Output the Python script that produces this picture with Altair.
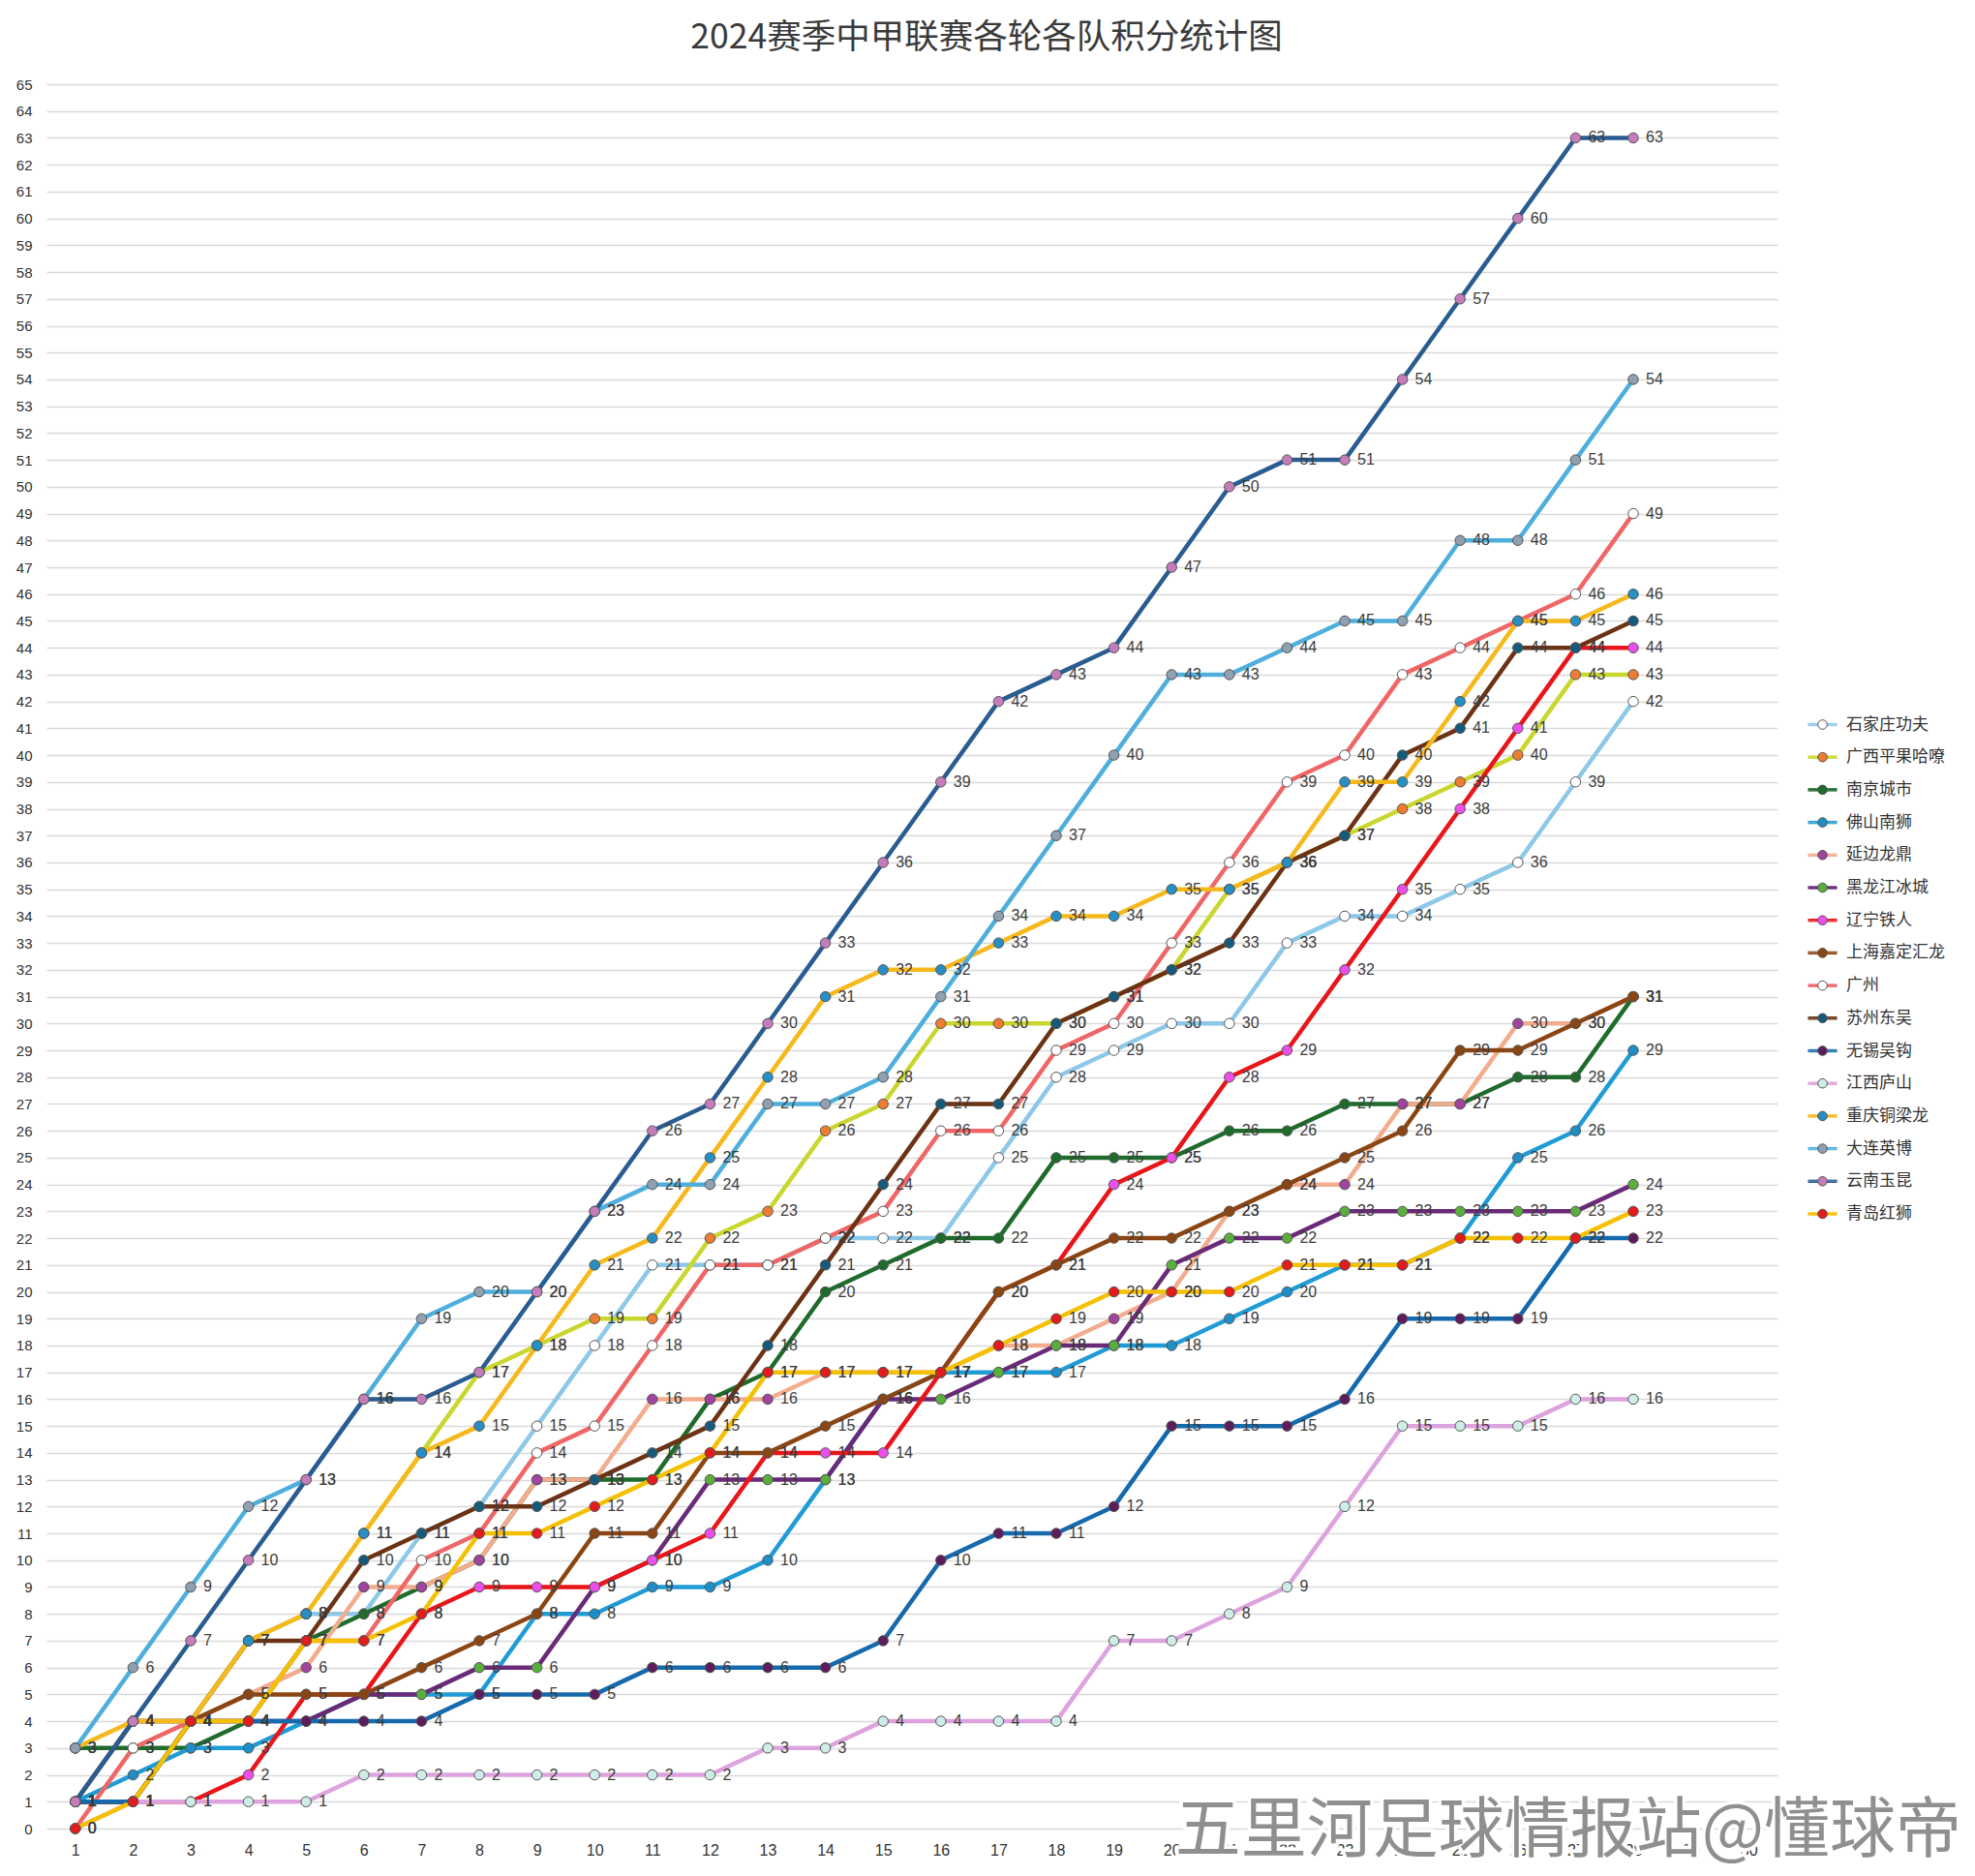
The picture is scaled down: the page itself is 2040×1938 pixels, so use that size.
import altair as alt
import pandas as pd

teams = ["石家庄功夫", "广西平果哈嘹", "南京城市", "佛山南狮", "延边龙鼎", "黑龙江冰城",
         "辽宁铁人", "上海嘉定汇龙", "广州", "苏州东吴", "无锡吴钩", "江西庐山",
         "重庆铜梁龙", "大连英博", "云南玉昆", "青岛红狮"]
rounds = list(range(1, 29))
x_ticks = list(range(1, 31))
y_ticks = list(range(0, 66))

shijiazhuang = [1, 4, 4, 7, 8, 8, 11, 12, 15, 18, 21, 21, 21, 22, 22, 22, 25, 28, 29, 30, 30, 33, 34, 34, 35, 36, 39, 42]
guangxi = [1, 4, 4, 7, 8, 11, 14, 17, 18, 19, 19, 22, 23, 26, 27, 30, 30, 30, 31, 32, 35, 36, 37, 38, 39, 40, 43, 43]
nanjing = [3, 3, 3, 4, 7, 8, 9, 10, 13, 13, 13, 16, 17, 20, 21, 22, 22, 25, 25, 25, 26, 26, 27, 27, 27, 28, 28, 31]
foshan = [1, 2, 3, 3, 4, 5, 5, 5, 8, 8, 9, 9, 10, 13, 16, 17, 17, 17, 18, 18, 19, 20, 21, 21, 22, 25, 26, 29]
yanbian = [1, 1, 4, 5, 6, 9, 9, 10, 13, 13, 16, 16, 16, 17, 17, 17, 18, 18, 19, 20, 23, 24, 24, 27, 27, 30, 30, 31]
heilongjiang = [1, 4, 4, 4, 4, 5, 5, 6, 6, 9, 10, 13, 13, 13, 16, 16, 17, 18, 18, 21, 22, 22, 23, 23, 23, 23, 23, 24]
liaoning = [1, 1, 1, 2, 5, 5, 8, 9, 9, 9, 10, 11, 14, 14, 14, 17, 20, 21, 24, 25, 28, 29, 32, 35, 38, 41, 44, 44]
shanghai = [1, 1, 4, 5, 5, 5, 6, 7, 8, 11, 11, 14, 14, 15, 16, 17, 20, 21, 22, 22, 23, 24, 25, 26, 29, 29, 30, 31]
guangzhou = [0, 3, 4, 4, 7, 7, 10, 11, 14, 15, 18, 21, 21, 22, 23, 26, 26, 29, 30, 33, 36, 39, 40, 43, 44, 45, 46, 49]
suzhou = [1, 1, 4, 7, 7, 10, 11, 12, 12, 13, 14, 15, 18, 21, 24, 27, 27, 30, 31, 32, 33, 36, 37, 40, 41, 44, 44, 45]
wuxi = [1, 1, 4, 4, 4, 4, 4, 5, 5, 5, 6, 6, 6, 6, 7, 10, 11, 11, 12, 15, 15, 15, 16, 19, 19, 19, 22, 22]
jiangxi = [0, 1, 1, 1, 1, 2, 2, 2, 2, 2, 2, 2, 3, 3, 4, 4, 4, 4, 7, 7, 8, 9, 12, 15, 15, 15, 16, 16]
chongqing = [3, 4, 4, 7, 8, 11, 14, 15, 18, 21, 22, 25, 28, 31, 32, 32, 33, 34, 34, 35, 35, 36, 39, 39, 42, 45, 45, 46]
dalian = [3, 6, 9, 12, 13, 16, 19, 20, 20, 23, 24, 24, 27, 27, 28, 31, 34, 37, 40, 43, 43, 44, 45, 45, 48, 48, 51, 54]
yunnan = [1, 4, 7, 10, 13, 16, 16, 17, 20, 23, 26, 27, 30, 33, 36, 39, 42, 43, 44, 47, 50, 51, 51, 54, 57, 60, 63, 63]
qingdao = [0, 1, 4, 4, 7, 7, 8, 11, 11, 12, 13, 14, 17, 17, 17, 17, 18, 19, 20, 20, 20, 21, 21, 21, 22, 22, 22, 23]

series = [shijiazhuang, guangxi, nanjing, foshan, yanbian, heilongjiang, liaoning, shanghai,
          guangzhou, suzhou, wuxi, jiangxi, chongqing, dalian, yunnan, qingdao]

line_colors = ["#8DC8E8", "#C9D62E", "#1E6B2C", "#1F9BD6", "#F2AC8E", "#6A2A78", "#E8161A", "#8B4513",
               "#F06666", "#6B3214", "#1569AD", "#DDA3DE", "#F6B91D", "#4EAFDD", "#2A5C91", "#F5C002"]
marker_colors = ["#FFFFFF", "#EE7D31", "#1E6B2C", "#1E8FC6", "#A0449E", "#5AAE3D", "#EC4EEA", "#8B4513",
                 "#FFFFFF", "#155A7B", "#5B1D5C", "#CDEDE6", "#278FC4", "#8FA0B1", "#C47CBB", "#E31B1D"]

title_text = "2024赛季中甲联赛各轮各队积分统计图"
watermark = "五里河足球情报站@懂球帝"

# marker legend keys use a separate (space-suffixed) domain so Vega-Lite keeps two legends
marker_keys = [t + " " for t in teams]

rows = []
for k, (t, mk, vals) in enumerate(zip(teams, marker_keys, series)):
    for r, v in zip(rounds, vals):
        rows.append({"team": t, "mkey": mk, "round": r, "pts": v, "k": k})
df = pd.DataFrame(rows)

CJK = "Noto Sans CJK SC"
LAT = "Liberation Sans"

x = alt.X("round:Q",
          scale=alt.Scale(domain=[0.5, 30.5], nice=False, zero=False),
          axis=alt.Axis(values=x_ticks, grid=False, ticks=False, domain=False, labelFontSize=16,
                        labelColor="#333333", labelPadding=14, title=None, labelFont=LAT,
                        labelOverlap=False, format="d"))
y = alt.Y("pts:Q",
          scale=alt.Scale(domain=[0, 65], nice=False, zero=True),
          axis=alt.Axis(values=y_ticks, grid=True, gridColor="#D9D9D9", gridWidth=1.5, ticks=False,
                        domain=False, labelFontSize=15, labelColor="#333333", labelPadding=15,
                        title=None, labelFont=LAT, labelOverlap=False, format="d"))

# both legends share identical layout settings (same stroke width) so they overlap exactly
legend_common = dict(orient="none", legendX=1819, legendY=646, title=None, symbolSize=900,
                     symbolStrokeWidth=1, labelFontSize=17, labelFont=CJK, labelColor="#333333",
                     labelOffset=9, rowPadding=9.7, padding=0, direction="vertical")

thick_line_path = ("M-1,-0.08H-0.3M0.3,-0.08H1"
                   "M-1,-0.03H-0.3M0.3,-0.03H1"
                   "M-1,0.03H-0.3M0.3,0.03H1"
                   "M-1,0.08H-0.3M0.3,0.08H1")

lines = alt.Chart(df).mark_line(strokeWidth=4.5, strokeJoin="round", strokeCap="round").encode(
    x=x, y=y,
    stroke=alt.Stroke("team:N", scale=alt.Scale(domain=teams, range=line_colors),
                      legend=alt.Legend(symbolType=thick_line_path, **legend_common)),
    order=alt.Order("round:Q"),
)

points = alt.Chart(df).mark_point(filled=True, size=110, strokeWidth=1, opacity=1).encode(
    x=x, y=y,
    fill=alt.Fill("mkey:N", scale=alt.Scale(domain=marker_keys, range=marker_colors),
                  legend=alt.Legend(symbolType="M-0.32,0A0.32,0.32,0,1,0,0.32,0A0.32,0.32,0,1,0,-0.32,0Z",
                                    symbolStrokeColor="#555555",
                                    labelOpacity=0, symbolOpacity=1, **legend_common)),
    stroke=alt.value("#555555"),
)

labels = alt.Chart(df).mark_text(align="left", baseline="middle", dx=13, fontSize=16,
                                 color="#3C3C3C", font=LAT).encode(
    x=x, y=y, text=alt.Text("pts:Q", format="d"))

wm_df = pd.DataFrame({"t": [watermark]})
wm_halo = alt.Chart(wm_df).mark_text(align="right", baseline="middle", fontSize=68, font=CJK,
                                     fill="white", stroke="white", strokeWidth=7,
                                     x=1978, y=1806).encode(text="t:N")
wm_text = alt.Chart(wm_df).mark_text(align="right", baseline="middle", fontSize=68, font=CJK,
                                     fill="#8A8A8A", opacity=0.95,
                                     x=1978, y=1806).encode(text="t:N")

chart = alt.layer(lines, points, labels, wm_halo, wm_text).properties(
    width=1788, height=1802,
    title=alt.TitleParams(title_text, fontSize=35.5, font=CJK, fontWeight="normal", color="#3A3A3A",
                          anchor="middle", dx=77, dy=34, offset=22, baseline="bottom"),
    autosize=alt.AutoSizeParams(type="none"),
    padding={"left": 40, "top": 79, "right": 190, "bottom": 36},
).configure(background="white").configure_view(stroke=None)

chart.save("out.html", embed_options={"renderer": "svg", "actions": False})
